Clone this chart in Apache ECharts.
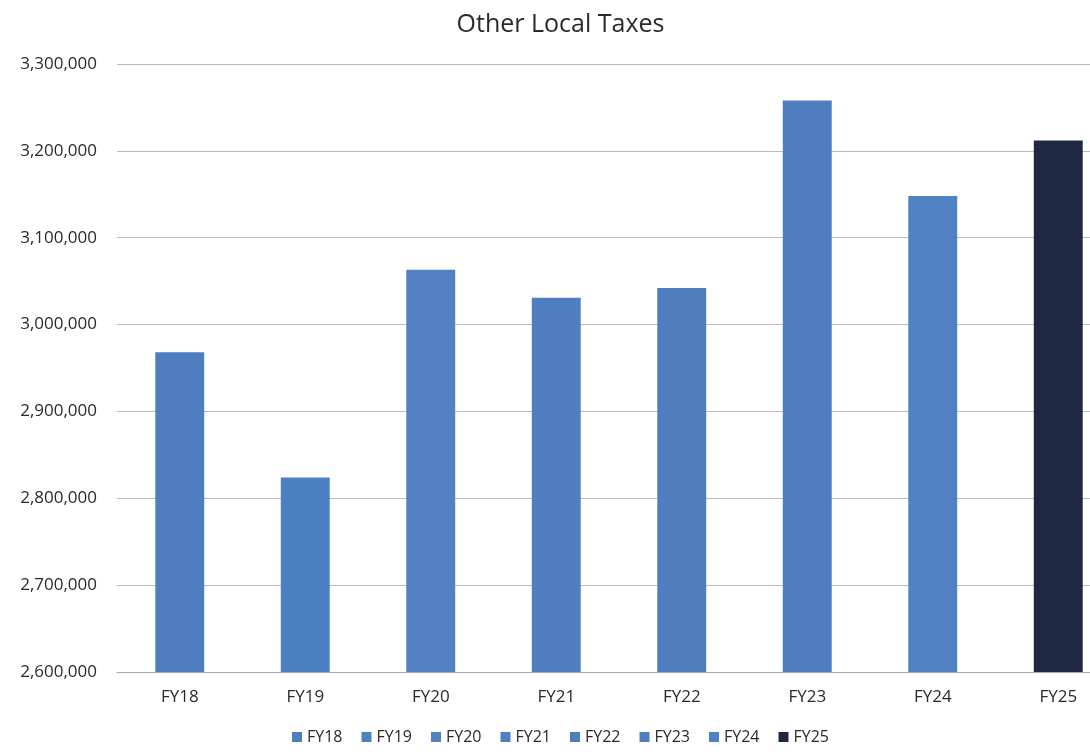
<!DOCTYPE html>
<html>
<head>
<meta charset="utf-8">
<script src="https://cdn.jsdelivr.net/npm/echarts@6/dist/echarts.min.js"></script>
<style>html,body{margin:0;padding:0;background:#fff;overflow:hidden;width:1090px;height:752px}#c{width:1121px;height:752px}</style>
</head>
<body>
<div id="c"></div>
<script>
var categories = ['FY18','FY19','FY20','FY21','FY22','FY23','FY24','FY25'];
var values = [2968000, 2824000, 3063000, 3031000, 3042000, 3258000, 3148000, 3212000];
var colors = ['#4f7ec0','#4d80c2','#5281c3','#4f7fc1','#4f7ebf','#4e7ec0','#4f81c3','#1e2843'];
var yTicks = {min: 2600000, max: 3300000, interval: 100000};

var font = '"Open Sans", "Liberation Sans", sans-serif';
var series = categories.map(function (name, i) {
  var d = categories.map(function (c, j) { return j === i ? values[j] : null; });
  return {
    name: name, type: 'bar', data: d, barWidth: '39%', barGap: '-100%',
    itemStyle: {color: colors[i]}
  };
});

var chart = echarts.init(document.getElementById('c'));
chart.setOption({
  animation: false,
  title: {text: 'Other Local Taxes', left: 'center', top: 7,
    textStyle: {fontFamily: font, fontSize: 25, fontWeight: 'normal', color: '#2a2a2a'}},
  legend: {bottom: 2, left: 'center', itemWidth: 10, itemHeight: 10, itemGap: 19, icon: 'rect',
    textStyle: {fontFamily: font, fontSize: 16, color: '#2a2a2a'},
    data: categories},
  grid: {left: 117, right: 0, top: 64, bottom: 80, containLabel: false},
  xAxis: {type: 'category', data: categories,
    axisLine: {lineStyle: {color: '#aaa'}}, axisTick: {show: false},
    axisLabel: {fontFamily: font, fontSize: 17, color: '#2a2a2a', margin: 17}},
  yAxis: {type: 'value', min: yTicks.min, max: yTicks.max, interval: yTicks.interval,
    axisLine: {show: false}, axisTick: {show: false},
    splitLine: {lineStyle: {color: '#bbb'}},
    axisLabel: {fontFamily: font, fontSize: 17, color: '#2a2a2a', margin: 20,
      formatter: function (v) { return v.toLocaleString('en-US'); }}},
  series: series
});
</script>
</body>
</html>
